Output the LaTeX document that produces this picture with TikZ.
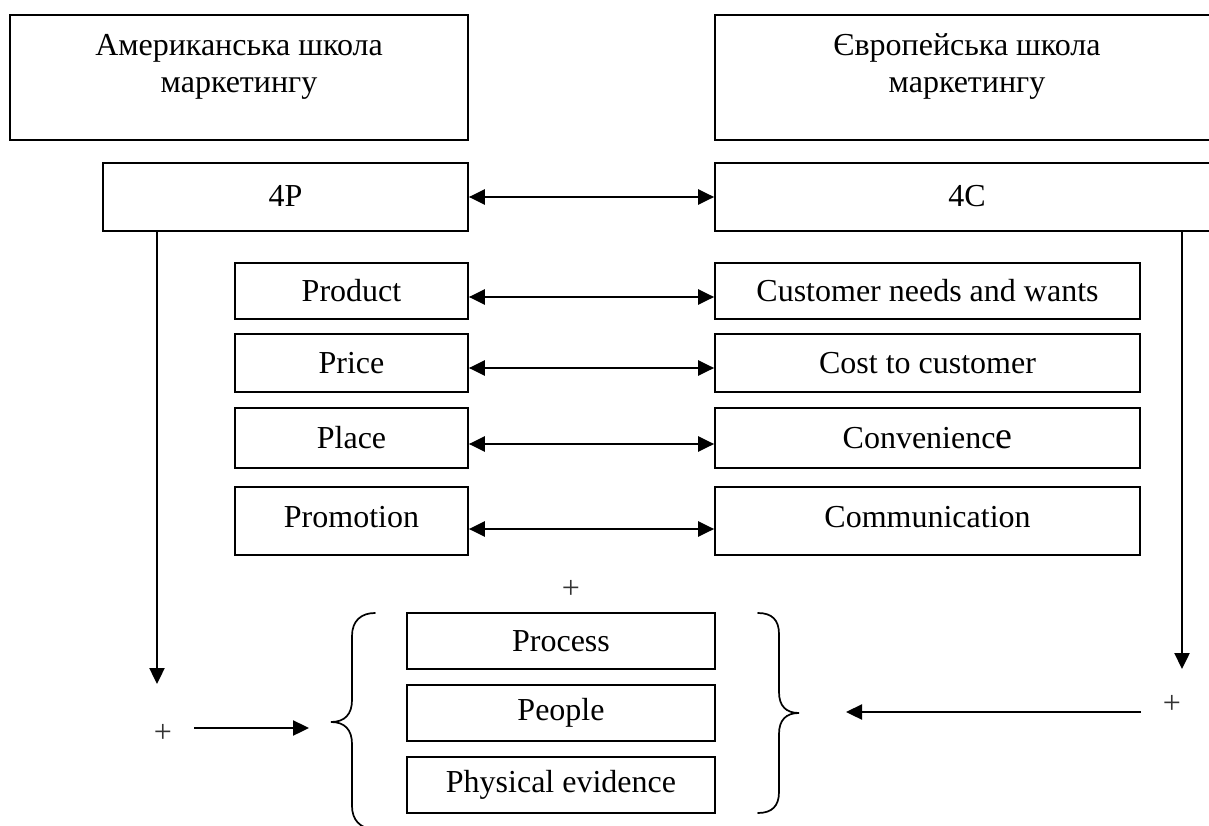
\documentclass[tikz,border=0pt]{standalone}
\usepackage{fontspec}
\setmainfont{Liberation Serif}
\usetikzlibrary{arrows.meta}
\tikzset{
  box/.style={draw, line width=1.7pt, inner sep=0pt, align=center, font=\fontsize{32}{37}\selectfont},
  lbl/.style={inner sep=0pt, align=center, font=\fontsize{32}{37}\selectfont},
  plussign/.style={inner sep=0pt, font=\fontsize{32}{32}\selectfont, text=black!80},
  tipshape/.tip={Triangle[length=16pt,width=15pt]},
  conn/.style={line width=2.4pt, -tipshape},
  biconn/.style={line width=2.4pt, tipshape-tipshape},
  bracepath/.style={line width=1.7pt, line cap=round}
}
\begin{document}
\begin{tikzpicture}[x=1pt,y=-1pt]
\useasboundingbox (0,0) rectangle (1209,826);
\clip (0,0) rectangle (1209,826);

% schools
\node[box, minimum width=458pt, minimum height=125pt] (amer) at (239,77.5) {};
\node[lbl] (amertext) at (239,67) {Американська школа\\маркетингу};
\node[box, minimum width=504pt, minimum height=125pt] (euro) at (967,77.5) {};
\node[lbl] (eurotext) at (967,67) {Європейська школа\\маркетингу};

% 4P / 4C
\node[box, minimum width=365pt, minimum height=68pt, text depth=3pt] (p4) at (285.5,197) {4P};
\node[box, minimum width=504pt, minimum height=68pt, text depth=3pt] (c4) at (967,197) {4C};

% rows
\node[box, minimum width=233pt, minimum height=56pt] (prod) at (351.5,291) {Product};
\node[box, minimum width=233pt, minimum height=58pt] (price) at (351.5,363) {Price};
\node[box, minimum width=233pt, minimum height=60pt] (place) at (351.5,438) {Place};
\node[box, minimum width=233pt, minimum height=68pt, text depth=9pt] (promo) at (351.5,521) {Promotion};

\node[box, minimum width=425pt, minimum height=56pt] (cust) at (927.5,291) {Customer needs and wants};
\node[box, minimum width=425pt, minimum height=58pt] (cost) at (927.5,363) {Cost to customer};
\node[box, minimum width=425pt, minimum height=60pt] (conv) at (927.5,438) {Convenienc{\fontsize{38}{37}\selectfont e}};
\node[box, minimum width=425pt, minimum height=68pt, text depth=9pt] (comm) at (927.5,521) {Communication};

% extra 3P
\node[plussign] (plustop) at (571,589) {+};
\node[box, minimum width=308pt, minimum height=56pt] (proc) at (561,641) {Process};
\node[box, minimum width=308pt, minimum height=56pt] (people) at (561,713) {People};
\node[box, minimum width=308pt, minimum height=56pt] (phys) at (561,785) {Physical evidence};

% plus signs
\node[plussign] (plusl) at (163,733) {+};
\node[plussign] (plusr) at (1172,704) {+};

% braces
\draw[bracepath] (375,613) .. controls (361,613) and (352,621) .. (352,636)
  -- (352,700) .. controls (352,714) and (345,722) .. (331,722)
  .. controls (345,722) and (352,730) .. (352,744)
  -- (352,806) .. controls (352,820) and (360,828) .. (374,830);
\draw[bracepath] (758,613) .. controls (772,613) and (779,620) .. (779,634)
  -- (779,692) .. controls (779,706) and (786,713) .. (799,713)
  .. controls (786,713) and (779,720) .. (779,734)
  -- (779,792) .. controls (779,806) and (772,813) .. (758,813);

% connector coordinates
\coordinate (ltip) at (157,684);
\coordinate (rtip) at (1182,669);
\coordinate (lstart) at (194,728);
\coordinate (lend) at (309,728);
\coordinate (rstart) at (1141,712);
\coordinate (rend) at (846,712);

% connectors
\draw[biconn] (p4.east) -- (c4.west);
\draw[biconn] ([yshift=-6pt]prod.east) -- ([yshift=-6pt]cust.west);
\draw[biconn] ([yshift=-5pt]price.east) -- ([yshift=-5pt]cost.west);
\draw[biconn] ([yshift=-6pt]place.east) -- ([yshift=-6pt]conv.west);
\draw[biconn] ([yshift=-8pt]promo.east) -- ([yshift=-8pt]comm.west);
\draw[conn] (p4.south -| ltip) -- (ltip);
\draw[conn] (c4.south -| rtip) -- (rtip);
\draw[conn] (lstart) -- (lend);
\draw[conn] (rstart) -- (rend);
\end{tikzpicture}
\end{document}
